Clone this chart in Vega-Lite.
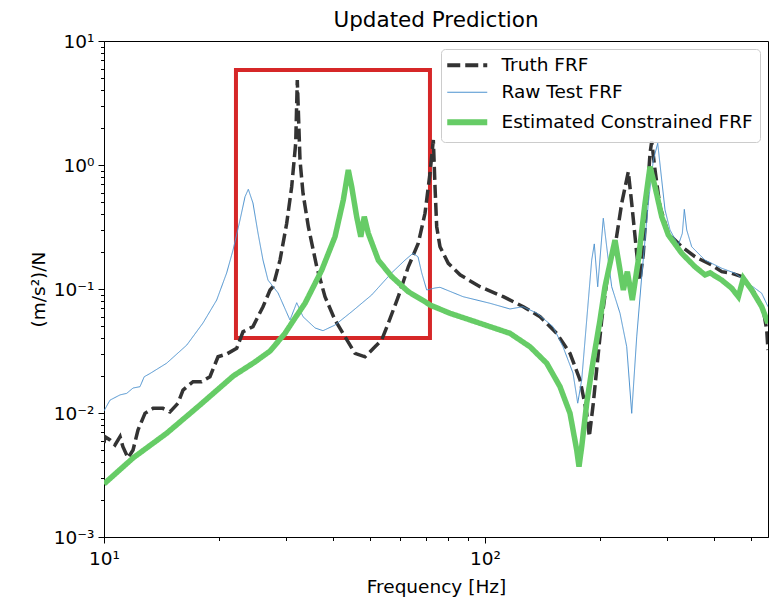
{
  "$schema": "https://vega.github.io/schema/vega-lite/v6.json",
  "width": 664,
  "height": 496,
  "autosize": {"type": "none"},
  "padding": {"left": 104, "top": 41, "right": 7, "bottom": 61},
  "background": "white",
  "title": {"text": "Updated Prediction", "fontSize": 21.5, "font": "DejaVu Sans", "fontWeight": "normal", "color": "black", "anchor": "middle", "offset": 1},
  "config": {
    "view": {"stroke": "black", "strokeWidth": 1},
    "font": "DejaVu Sans",
    "axis": {"domainColor": "black", "domainWidth": 1, "tickColor": "black", "tickWidth": 1, "labelColor": "black", "titleColor": "black", "labelFont": "DejaVu Sans", "titleFont": "DejaVu Sans", "labelFontSize": 18.5, "titleFontSize": 18.5, "titleFontWeight": "normal", "grid": false, "labelOverlap": false, "labelFlush": false, "labelBound": false}
  },
  "datasets": {
    "box": [{"f": 22.2, "f2": 71.7, "v": 5.84, "v2": 0.0402}],
    "frf": [
      {"s": "Truth FRF", "f": 10, "v": 0.00573}, {"s": "Truth FRF", "f": 10.06, "v": 0.00644}, {"s": "Truth FRF", "f": 10.37, "v": 0.00606}, {"s": "Truth FRF", "f": 10.69, "v": 0.00552}, {"s": "Truth FRF", "f": 11.02, "v": 0.00644}, {"s": "Truth FRF", "f": 11.21, "v": 0.00535}, {"s": "Truth FRF", "f": 11.56, "v": 0.00434}, {"s": "Truth FRF", "f": 11.92, "v": 0.00503}, {"s": "Truth FRF", "f": 12.28, "v": 0.00729}, {"s": "Truth FRF", "f": 12.81, "v": 0.00994}, {"s": "Truth FRF", "f": 13.45, "v": 0.0109}, {"s": "Truth FRF", "f": 14.28, "v": 0.0109}, {"s": "Truth FRF", "f": 14.9, "v": 0.0102}, {"s": "Truth FRF", "f": 15.64, "v": 0.012}, {"s": "Truth FRF", "f": 16.12, "v": 0.0153}, {"s": "Truth FRF", "f": 17.13, "v": 0.0179}, {"s": "Truth FRF", "f": 18.04, "v": 0.0179}, {"s": "Truth FRF", "f": 18.97, "v": 0.0196}, {"s": "Truth FRF", "f": 19.92, "v": 0.0284}, {"s": "Truth FRF", "f": 20.99, "v": 0.0299}, {"s": "Truth FRF", "f": 22.3, "v": 0.0332}, {"s": "Truth FRF", "f": 23.16, "v": 0.0452}, {"s": "Truth FRF", "f": 24.6, "v": 0.0497}, {"s": "Truth FRF", "f": 26.14, "v": 0.072}, {"s": "Truth FRF", "f": 27.28, "v": 0.0982}, {"s": "Truth FRF", "f": 27.77, "v": 0.1043}, {"s": "Truth FRF", "f": 28.97, "v": 0.171}, {"s": "Truth FRF", "f": 30.17, "v": 0.339}, {"s": "Truth FRF", "f": 31.09, "v": 0.668}, {"s": "Truth FRF", "f": 31.85, "v": 1.496}, {"s": "Truth FRF", "f": 32.16, "v": 4.85}, {"s": "Truth FRF", "f": 32.69, "v": 1.097}, {"s": "Truth FRF", "f": 33.29, "v": 0.591}, {"s": "Truth FRF", "f": 34.38, "v": 0.318}, {"s": "Truth FRF", "f": 36.17, "v": 0.151}, {"s": "Truth FRF", "f": 38.02, "v": 0.0867}, {"s": "Truth FRF", "f": 40.39, "v": 0.0562}, {"s": "Truth FRF", "f": 42.91, "v": 0.0412}, {"s": "Truth FRF", "f": 45.58, "v": 0.0303}, {"s": "Truth FRF", "f": 48.42, "v": 0.0284}, {"s": "Truth FRF", "f": 51.43, "v": 0.0342}, {"s": "Truth FRF", "f": 53.55, "v": 0.0388}, {"s": "Truth FRF", "f": 55.73, "v": 0.0529}, {"s": "Truth FRF", "f": 59.21, "v": 0.0867}, {"s": "Truth FRF", "f": 62.9, "v": 0.151}, {"s": "Truth FRF", "f": 66.82, "v": 0.234}, {"s": "Truth FRF", "f": 69.58, "v": 0.408}, {"s": "Truth FRF", "f": 71.72, "v": 0.857}, {"s": "Truth FRF", "f": 73.17, "v": 1.591}, {"s": "Truth FRF", "f": 73.92, "v": 0.668}, {"s": "Truth FRF", "f": 74.68, "v": 0.318}, {"s": "Truth FRF", "f": 76.18, "v": 0.219}, {"s": "Truth FRF", "f": 80.1, "v": 0.161}, {"s": "Truth FRF", "f": 86, "v": 0.13}, {"s": "Truth FRF", "f": 97.03, "v": 0.1043}, {"s": "Truth FRF", "f": 111.68, "v": 0.0867}, {"s": "Truth FRF", "f": 126.05, "v": 0.072}, {"s": "Truth FRF", "f": 139.43, "v": 0.0598}, {"s": "Truth FRF", "f": 154.23, "v": 0.0439}, {"s": "Truth FRF", "f": 167.14, "v": 0.0303}, {"s": "Truth FRF", "f": 177.56, "v": 0.0185}, {"s": "Truth FRF", "f": 184.88, "v": 0.00994}, {"s": "Truth FRF", "f": 187.81, "v": 0.00644}, {"s": "Truth FRF", "f": 192.4, "v": 0.012}, {"s": "Truth FRF", "f": 198.31, "v": 0.0303}, {"s": "Truth FRF", "f": 202.42, "v": 0.0562}, {"s": "Truth FRF", "f": 210.66, "v": 0.142}, {"s": "Truth FRF", "f": 219.37, "v": 0.219}, {"s": "Truth FRF", "f": 228.45, "v": 0.491}, {"s": "Truth FRF", "f": 237.75, "v": 0.883}, {"s": "Truth FRF", "f": 242.68, "v": 0.491}, {"s": "Truth FRF", "f": 250.13, "v": 0.194}, {"s": "Truth FRF", "f": 255.17, "v": 0.118}, {"s": "Truth FRF", "f": 260.31, "v": 0.194}, {"s": "Truth FRF", "f": 265.71, "v": 0.491}, {"s": "Truth FRF", "f": 271.06, "v": 1.243}, {"s": "Truth FRF", "f": 273.86, "v": 1.55}, {"s": "Truth FRF", "f": 279.38, "v": 0.911}, {"s": "Truth FRF", "f": 287.96, "v": 0.461}, {"s": "Truth FRF", "f": 302.77, "v": 0.281}, {"s": "Truth FRF", "f": 328.31, "v": 0.219}, {"s": "Truth FRF", "f": 355.8, "v": 0.182}, {"s": "Truth FRF", "f": 393.62, "v": 0.156}, {"s": "Truth FRF", "f": 418.19, "v": 0.138}, {"s": "Truth FRF", "f": 444.21, "v": 0.134}, {"s": "Truth FRF", "f": 471.89, "v": 0.126}, {"s": "Truth FRF", "f": 511.29, "v": 0.0924}, {"s": "Truth FRF", "f": 537.6, "v": 0.0677}, {"s": "Truth FRF", "f": 548.76, "v": 0.0467}, {"s": "Truth FRF", "f": 553, "v": 0.0322},
      {"s": "Raw Test FRF", "f": 10, "v": 0.0104}, {"s": "Raw Test FRF", "f": 10.37, "v": 0.0127}, {"s": "Raw Test FRF", "f": 11.02, "v": 0.014}, {"s": "Raw Test FRF", "f": 11.47, "v": 0.0144}, {"s": "Raw Test FRF", "f": 11.92, "v": 0.0159}, {"s": "Raw Test FRF", "f": 12.43, "v": 0.0163}, {"s": "Raw Test FRF", "f": 12.75, "v": 0.0196}, {"s": "Raw Test FRF", "f": 13.2, "v": 0.0208}, {"s": "Raw Test FRF", "f": 14.6, "v": 0.0252}, {"s": "Raw Test FRF", "f": 16.49, "v": 0.0353}, {"s": "Raw Test FRF", "f": 18.19, "v": 0.0532}, {"s": "Raw Test FRF", "f": 19.76, "v": 0.0815}, {"s": "Raw Test FRF", "f": 20.99, "v": 0.135}, {"s": "Raw Test FRF", "f": 21.81, "v": 0.206}, {"s": "Raw Test FRF", "f": 22.75, "v": 0.36}, {"s": "Raw Test FRF", "f": 23.45, "v": 0.555}, {"s": "Raw Test FRF", "f": 23.92, "v": 0.637}, {"s": "Raw Test FRF", "f": 24.6, "v": 0.494}, {"s": "Raw Test FRF", "f": 25.36, "v": 0.283}, {"s": "Raw Test FRF", "f": 26.14, "v": 0.171}, {"s": "Raw Test FRF", "f": 26.94, "v": 0.118}, {"s": "Raw Test FRF", "f": 28.63, "v": 0.0929}, {"s": "Raw Test FRF", "f": 30.77, "v": 0.0562}, {"s": "Raw Test FRF", "f": 32.05, "v": 0.0775}, {"s": "Raw Test FRF", "f": 33.29, "v": 0.0598}, {"s": "Raw Test FRF", "f": 35.81, "v": 0.0485}, {"s": "Raw Test FRF", "f": 37.57, "v": 0.0461}, {"s": "Raw Test FRF", "f": 40.39, "v": 0.0512}, {"s": "Raw Test FRF", "f": 44.68, "v": 0.0656}, {"s": "Raw Test FRF", "f": 50.41, "v": 0.0895}, {"s": "Raw Test FRF", "f": 56.89, "v": 0.135}, {"s": "Raw Test FRF", "f": 61.66, "v": 0.171}, {"s": "Raw Test FRF", "f": 64.71, "v": 0.194}, {"s": "Raw Test FRF", "f": 66.7, "v": 0.182}, {"s": "Raw Test FRF", "f": 68.21, "v": 0.135}, {"s": "Raw Test FRF", "f": 70.3, "v": 0.0982}, {"s": "Raw Test FRF", "f": 73.92, "v": 0.1019}, {"s": "Raw Test FRF", "f": 76.18, "v": 0.1032}, {"s": "Raw Test FRF", "f": 87.57, "v": 0.0867}, {"s": "Raw Test FRF", "f": 103.07, "v": 0.0767}, {"s": "Raw Test FRF", "f": 116.29, "v": 0.069}, {"s": "Raw Test FRF", "f": 125.82, "v": 0.072}, {"s": "Raw Test FRF", "f": 136.67, "v": 0.064}, {"s": "Raw Test FRF", "f": 150.82, "v": 0.0497}, {"s": "Raw Test FRF", "f": 160.21, "v": 0.0342}, {"s": "Raw Test FRF", "f": 170.2, "v": 0.021}, {"s": "Raw Test FRF", "f": 175.1, "v": 0.012}, {"s": "Raw Test FRF", "f": 179.39, "v": 0.0185}, {"s": "Raw Test FRF", "f": 184.88, "v": 0.0562}, {"s": "Raw Test FRF", "f": 190.55, "v": 0.171}, {"s": "Raw Test FRF", "f": 193.57, "v": 0.231}, {"s": "Raw Test FRF", "f": 197.59, "v": 0.1043}, {"s": "Raw Test FRF", "f": 204.39, "v": 0.372}, {"s": "Raw Test FRF", "f": 210.66, "v": 0.171}, {"s": "Raw Test FRF", "f": 215.04, "v": 0.1043}, {"s": "Raw Test FRF", "f": 226.11, "v": 0.0637}, {"s": "Raw Test FRF", "f": 235.46, "v": 0.0342}, {"s": "Raw Test FRF", "f": 242.68, "v": 0.00994}, {"s": "Raw Test FRF", "f": 250.13, "v": 0.0412}, {"s": "Raw Test FRF", "f": 257.8, "v": 0.126}, {"s": "Raw Test FRF", "f": 268.29, "v": 0.491}, {"s": "Raw Test FRF", "f": 276.52, "v": 1.097}, {"s": "Raw Test FRF", "f": 283.98, "v": 1.496}, {"s": "Raw Test FRF", "f": 290.93, "v": 0.757}, {"s": "Raw Test FRF", "f": 296.79, "v": 0.434}, {"s": "Raw Test FRF", "f": 305.9, "v": 0.299}, {"s": "Raw Test FRF", "f": 321.64, "v": 0.226}, {"s": "Raw Test FRF", "f": 329.5, "v": 0.281}, {"s": "Raw Test FRF", "f": 333.51, "v": 0.439}, {"s": "Raw Test FRF", "f": 338.39, "v": 0.299}, {"s": "Raw Test FRF", "f": 348.77, "v": 0.219}, {"s": "Raw Test FRF", "f": 377.99, "v": 0.171}, {"s": "Raw Test FRF", "f": 418.19, "v": 0.147}, {"s": "Raw Test FRF", "f": 453.17, "v": 0.134}, {"s": "Raw Test FRF", "f": 491.08, "v": 0.111}, {"s": "Raw Test FRF", "f": 532.42, "v": 0.0924}, {"s": "Raw Test FRF", "f": 553, "v": 0.072},
      {"s": "Estimated Constrained FRF", "f": 10, "v": 0.00268}, {"s": "Estimated Constrained FRF", "f": 11.92, "v": 0.00434}, {"s": "Estimated Constrained FRF", "f": 14.6, "v": 0.00686}, {"s": "Estimated Constrained FRF", "f": 17.86, "v": 0.0116}, {"s": "Estimated Constrained FRF", "f": 21.85, "v": 0.0199}, {"s": "Estimated Constrained FRF", "f": 24.9, "v": 0.0258}, {"s": "Estimated Constrained FRF", "f": 27.28, "v": 0.0316}, {"s": "Estimated Constrained FRF", "f": 29.86, "v": 0.0439}, {"s": "Estimated Constrained FRF", "f": 31.72, "v": 0.0583}, {"s": "Estimated Constrained FRF", "f": 33.7, "v": 0.0767}, {"s": "Estimated Constrained FRF", "f": 37.28, "v": 0.142}, {"s": "Estimated Constrained FRF", "f": 40.39, "v": 0.264}, {"s": "Estimated Constrained FRF", "f": 42.47, "v": 0.522}, {"s": "Estimated Constrained FRF", "f": 43.77, "v": 0.911}, {"s": "Estimated Constrained FRF", "f": 44.68, "v": 0.668}, {"s": "Estimated Constrained FRF", "f": 46.04, "v": 0.383}, {"s": "Estimated Constrained FRF", "f": 47.2, "v": 0.264}, {"s": "Estimated Constrained FRF", "f": 48.21, "v": 0.383}, {"s": "Estimated Constrained FRF", "f": 49.39, "v": 0.281}, {"s": "Estimated Constrained FRF", "f": 52.47, "v": 0.171}, {"s": "Estimated Constrained FRF", "f": 56.89, "v": 0.126}, {"s": "Estimated Constrained FRF", "f": 62.9, "v": 0.0951}, {"s": "Estimated Constrained FRF", "f": 69.58, "v": 0.079}, {"s": "Estimated Constrained FRF", "f": 71.72, "v": 0.0743}, {"s": "Estimated Constrained FRF", "f": 80.93, "v": 0.0637}, {"s": "Estimated Constrained FRF", "f": 97.03, "v": 0.0529}, {"s": "Estimated Constrained FRF", "f": 116.29, "v": 0.0439}, {"s": "Estimated Constrained FRF", "f": 131.26, "v": 0.0342}, {"s": "Estimated Constrained FRF", "f": 145.19, "v": 0.0252}, {"s": "Estimated Constrained FRF", "f": 157.34, "v": 0.0163}, {"s": "Estimated Constrained FRF", "f": 167.14, "v": 0.00994}, {"s": "Estimated Constrained FRF", "f": 174.05, "v": 0.00503}, {"s": "Estimated Constrained FRF", "f": 176.49, "v": 0.00369}, {"s": "Estimated Constrained FRF", "f": 179.39, "v": 0.00535}, {"s": "Estimated Constrained FRF", "f": 184.88, "v": 0.012}, {"s": "Estimated Constrained FRF", "f": 192.4, "v": 0.0268}, {"s": "Estimated Constrained FRF", "f": 200.35, "v": 0.0562}, {"s": "Estimated Constrained FRF", "f": 206.5, "v": 0.1043}, {"s": "Estimated Constrained FRF", "f": 219.37, "v": 0.248}, {"s": "Estimated Constrained FRF", "f": 226.11, "v": 0.142}, {"s": "Estimated Constrained FRF", "f": 230.67, "v": 0.0982}, {"s": "Estimated Constrained FRF", "f": 236.31, "v": 0.138}, {"s": "Estimated Constrained FRF", "f": 243.56, "v": 0.0815}, {"s": "Estimated Constrained FRF", "f": 252.56, "v": 0.171}, {"s": "Estimated Constrained FRF", "f": 263, "v": 0.491}, {"s": "Estimated Constrained FRF", "f": 271.06, "v": 0.969}, {"s": "Estimated Constrained FRF", "f": 279.38, "v": 0.668}, {"s": "Estimated Constrained FRF", "f": 290.93, "v": 0.383}, {"s": "Estimated Constrained FRF", "f": 302.77, "v": 0.273}, {"s": "Estimated Constrained FRF", "f": 328.31, "v": 0.194}, {"s": "Estimated Constrained FRF", "f": 355.8, "v": 0.151}, {"s": "Estimated Constrained FRF", "f": 377.99, "v": 0.13}, {"s": "Estimated Constrained FRF", "f": 389.6, "v": 0.135}, {"s": "Estimated Constrained FRF", "f": 418.19, "v": 0.118}, {"s": "Estimated Constrained FRF", "f": 444.21, "v": 0.1013}, {"s": "Estimated Constrained FRF", "f": 462.29, "v": 0.0867}, {"s": "Estimated Constrained FRF", "f": 476.47, "v": 0.122}, {"s": "Estimated Constrained FRF", "f": 501.19, "v": 0.0982}, {"s": "Estimated Constrained FRF", "f": 532.42, "v": 0.072}, {"s": "Estimated Constrained FRF", "f": 553, "v": 0.0529}
    ]
  },
  "encoding": {
    "x": {"field": "f", "type": "quantitative", "scale": {"type": "log", "domain": [10, 553], "nice": false},
      "axis": {"title": "Frequency [Hz]", "values": [10, 20, 30, 40, 50, 60, 70, 80, 90, 100, 200, 300, 400, 500],
        "labelExpr": "datum.value == 10 ? '10¹' : datum.value == 100 ? '10²' : ''",
        "tickSize": {"condition": {"test": "abs(log(datum.value)/LN10 - round(log(datum.value)/LN10)) < 0.0001", "value": 6}, "value": 3.5},
        "labelPadding": 6, "titleY": 55, "titleBaseline": "alphabetic"}},
    "y": {"field": "v", "type": "quantitative", "scale": {"type": "log", "domain": [0.001, 10], "nice": false},
      "axis": {"title": "(m/s²)/N", "values": [0.001, 0.002, 0.003, 0.004, 0.005, 0.006, 0.007, 0.008, 0.009, 0.01, 0.02, 0.03, 0.04, 0.05, 0.06, 0.07, 0.08, 0.09, 0.1, 0.2, 0.3, 0.4, 0.5, 0.6, 0.7, 0.8, 0.9, 1, 2, 3, 4, 5, 6, 7, 8, 9, 10],
        "labelExpr": "datum.value == 10 ? '10¹' : datum.value == 1 ? '10⁰' : datum.value == 0.1 ? '10⁻¹' : datum.value == 0.01 ? '10⁻²' : datum.value == 0.001 ? '10⁻³' : ''",
        "tickSize": {"condition": {"test": "abs(log(datum.value)/LN10 - round(log(datum.value)/LN10)) < 0.0001", "value": 6}, "value": 3.5},
        "labelPadding": 4, "titleX": -60, "titleY": 248, "titleAngle": 270, "titleAlign": "center", "titleBaseline": "alphabetic"}}
  },
  "layer": [
    {
      "data": {"name": "box"},
      "mark": {"type": "rect", "fillOpacity": 0, "stroke": "#d62728", "strokeWidth": 4},
      "encoding": {"x2": {"field": "f2"}, "y2": {"field": "v2"}}
    },
    {
      "data": {"name": "frf"},
      "encoding": {
        "color": {"field": "s", "type": "nominal", "scale": {"domain": ["Truth FRF", "Raw Test FRF", "Estimated Constrained FRF"], "range": ["#333333", "#4c92cf", "#66cc66"]},
          "legend": {"title": null, "orient": "top-right", "offset": 8, "labelFontSize": 18.5, "labelFont": "DejaVu Sans", "labelColor": "black", "labelLimit": 400, "symbolType": "stroke", "symbolSize": 1600, "symbolOffset": 10, "labelOffset": 25, "padding": 7, "rowPadding": 8, "fillColor": "rgba(255,255,255,0.8)", "strokeColor": "#cccccc", "cornerRadius": 4,
            "encode": {"symbols": {"update": {"strokeWidth": {"signal": "datum.value == 'Raw Test FRF' ? 1.2 : datum.value == 'Truth FRF' ? 4 : 6"}, "opacity": {"value": 1}}}}}},
        "strokeDash": {"field": "s", "type": "nominal", "scale": {"domain": ["Truth FRF", "Raw Test FRF", "Estimated Constrained FRF"], "range": [[13, 5], [1, 0], [1, 0]]},
          "legend": {"title": null, "orient": "top-right", "offset": 8, "labelFontSize": 18.5, "labelFont": "DejaVu Sans", "labelColor": "black", "labelLimit": 400, "symbolType": "stroke", "symbolSize": 1600, "symbolOffset": 10, "labelOffset": 25, "padding": 7, "rowPadding": 8, "fillColor": "rgba(255,255,255,0.8)", "strokeColor": "#cccccc", "cornerRadius": 4,
            "encode": {"symbols": {"update": {"strokeWidth": {"signal": "datum.value == 'Raw Test FRF' ? 1.2 : datum.value == 'Truth FRF' ? 4 : 6"}, "opacity": {"value": 1}}}}}}
      },
      "layer": [
        {"transform": [{"filter": "datum.s == 'Truth FRF'"}], "mark": {"type": "line", "strokeWidth": 3.5, "clip": true}},
        {"transform": [{"filter": "datum.s == 'Raw Test FRF'"}], "mark": {"type": "line", "strokeWidth": 1, "clip": true}},
        {"transform": [{"filter": "datum.s == 'Estimated Constrained FRF'"}], "mark": {"type": "line", "strokeWidth": 5.5, "clip": true}}
      ]
    }
  ]
}
